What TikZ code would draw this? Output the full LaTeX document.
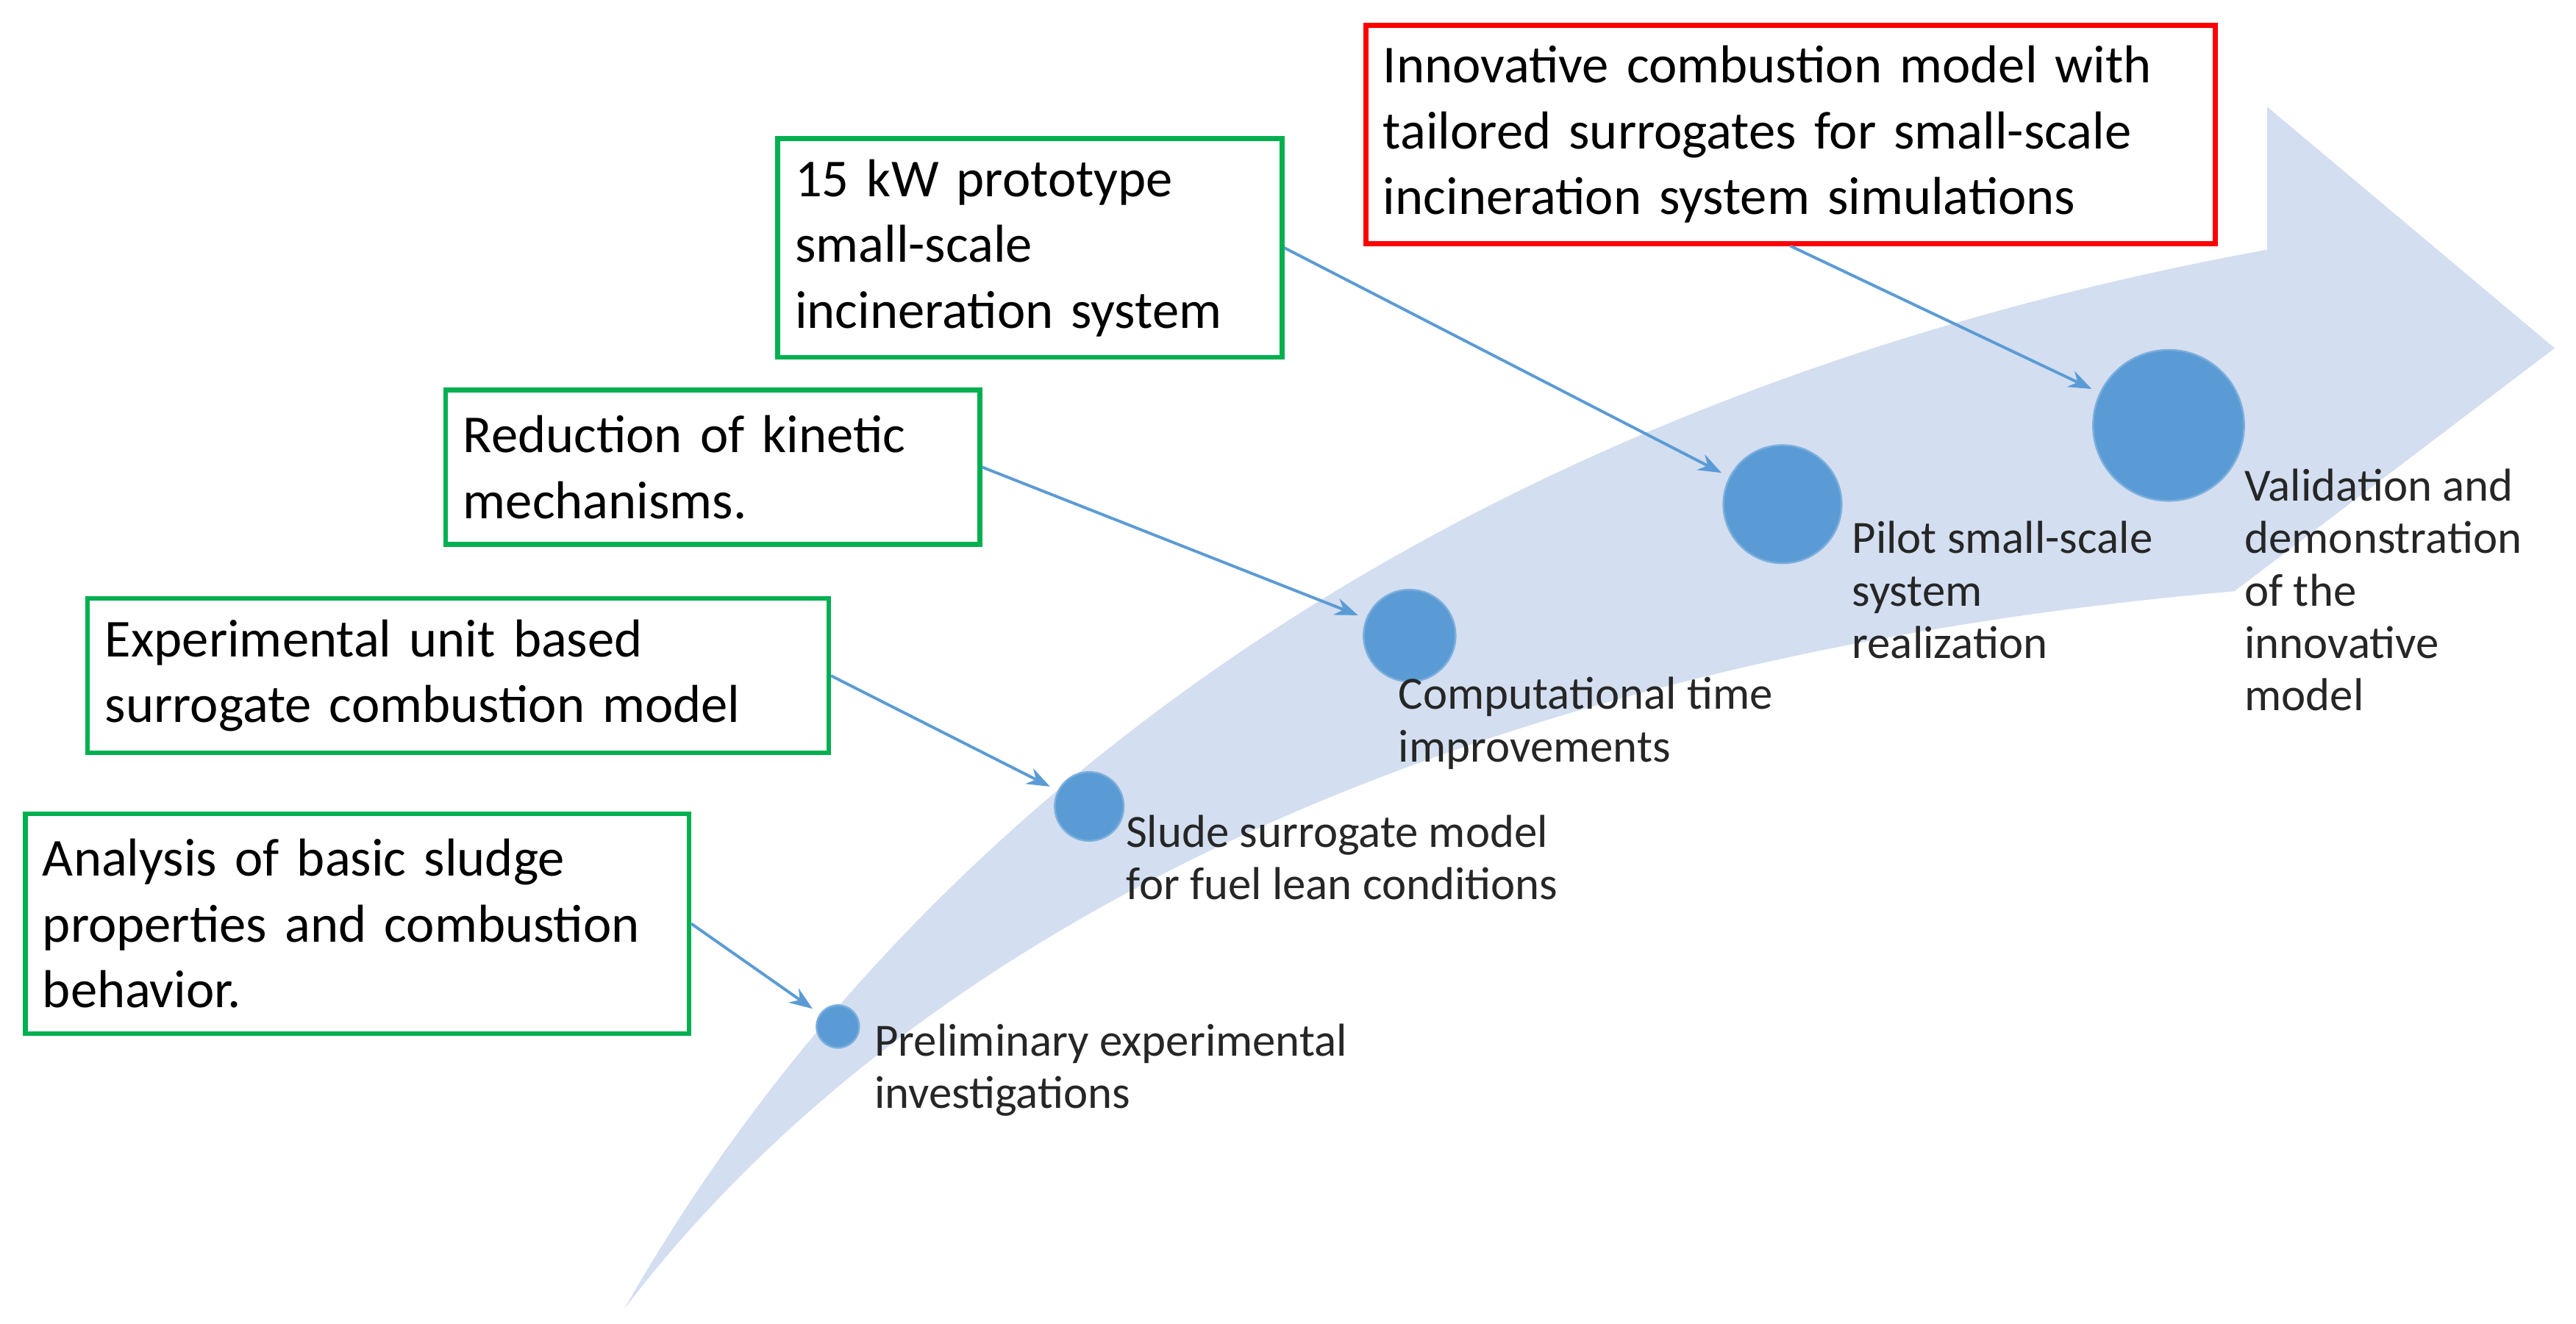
\documentclass[tikz,border=0pt]{standalone}
\usepackage{fontspec}
\setmainfont{Carlito}
\usetikzlibrary{arrows.meta}
\definecolor{band}{HTML}{D3DEF0}
\definecolor{dot}{HTML}{5B9BD5}
\definecolor{gbox}{HTML}{00B050}
\definecolor{rbox}{HTML}{FF0000}
\begin{document}
\begin{tikzpicture}[x=0.02cm,y=-0.02cm,
  box/.style={draw=#1,line width=1.6pt,anchor=north west,align=left,inner xsep=6pt,inner ysep=0pt,font=\fontsize{18.5}{22.8}\selectfont,fill=white},
  dotc/.style={circle,fill=dot,draw=dot!80!white,line width=0.6pt,inner sep=0pt,minimum size=#1*0.04cm},
  lab/.style={anchor=north west,align=left,inner sep=0pt,font=\fontsize{16}{18.2}\selectfont,text=black!85},
  con/.style={draw=dot,line width=1pt,-{Stealth[length=8pt,width=6pt]},shorten >=3pt}]
\useasboundingbox (0,0) rectangle (1568,806);
% band arrow
\fill[band] (380,797) .. controls (560,480) and (900,240) .. (1380,152)
  -- (1380,65) -- (1555,212) -- (1360,360)
  .. controls (900,400) and (560,560) .. (380,797) -- cycle;
% circles
\node[dotc=13] (c1) at (510,625) {};
\node[dotc=21] (c2) at (663,491) {};
\node[dotc=28] (c3) at (858,387) {};
\node[dotc=36] (c4) at (1085,307) {};
\node[dotc=46] (c5) at (1320,259) {};
% labels
\node[lab] (l1) at (532,623) {Preliminary experimental\\investigations};
\node[lab] (l2) at (685,496) {Slude surrogate model\\for fuel lean conditions};
\node[lab] (l3) at (851,412) {Computational time\\improvements};
\node[lab] (l4) at (1127,317) {Pilot small-scale\\system\\realization};
\node[lab] (l5) at (1366,285) {Validation and\\demonstration\\of the\\innovative\\model};
% boxes
\node[box=rbox,text width=517*0.02cm-12pt,minimum height=133*0.02cm] (r) at (830,14) {Innovative combustion model with\\tailored surrogates for small-scale\\incineration system simulations};
\node[box=gbox,text width=307*0.02cm-12pt,minimum height=133*0.02cm] (g1) at (472,83) {15 kW prototype\\small-scale\\incineration system};
\node[box=gbox,text width=325*0.02cm-12pt,minimum height=94*0.02cm] (g2) at (270,236) {Reduction of kinetic\\mechanisms.};
\node[box=gbox,text width=451*0.02cm-12pt,minimum height=94*0.02cm] (g3) at (52,363) {Experimental unit based\\surrogate combustion model};
\node[box=gbox,text width=404*0.02cm-12pt,minimum height=134*0.02cm] (g4) at (14,494) {Analysis of basic sludge\\properties and combustion\\behavior.};
% connectors
\draw[con] (r.south) -- (c5);
\draw[con] (g1.east) -- (c4);
\draw[con] (g2.east) -- (c3);
\draw[con] (g3.east) -- (c2);
\draw[con] (g4.east) -- (c1);
\end{tikzpicture}
\end{document}
